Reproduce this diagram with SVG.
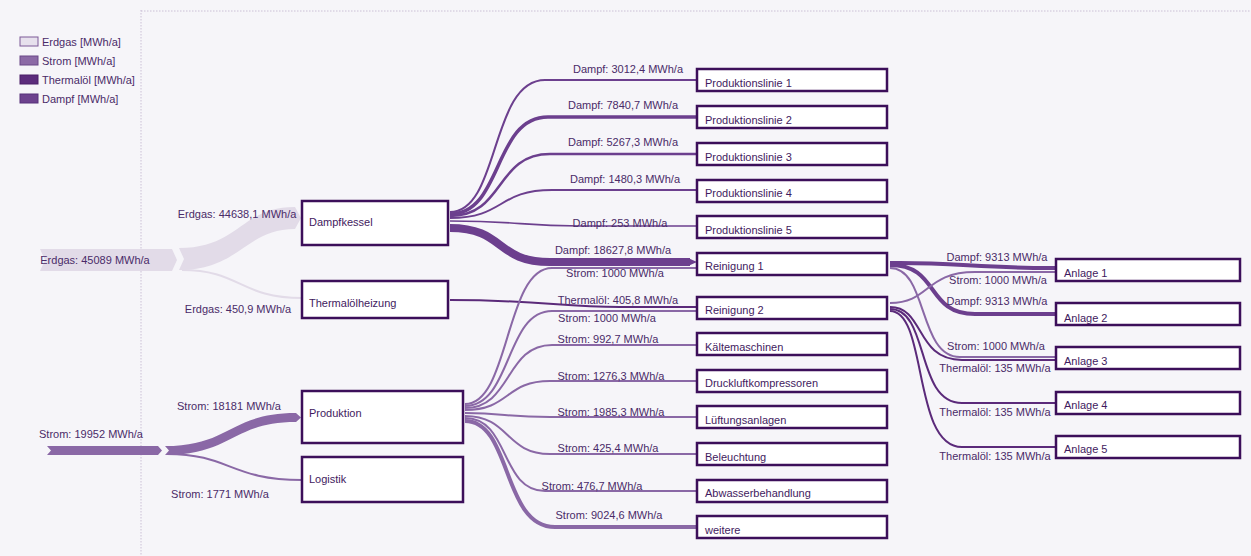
<svg xmlns="http://www.w3.org/2000/svg" width="1251" height="556" viewBox="0 0 1251 556">
<style>
text{font-family:"Liberation Sans",Arial,sans-serif;font-size:11px}
.lbl{fill:#4a2b68;text-anchor:middle}
.nl{fill:#3f1a5e}
.box{fill:#ffffff;stroke:#3c0f5a;stroke-width:2.5}
.f{fill:none}
.dampf{stroke:#6c3f8e}
.strom{stroke:#8a68a6}
.thermo{stroke:#5b2a7a}
.erdgas{stroke:#e2dbe8}
.grid{stroke:#cbc0d6;stroke-width:1;stroke-dasharray:1.5 1.5}
</style>
<rect x="0" y="0" width="1251" height="556" fill="#f6f5f9"/>
<line class="grid" x1="141" y1="10" x2="141" y2="556"/>
<line class="grid" x1="141" y1="11" x2="1251" y2="11"/>

<g id="legend">
<rect x="20" y="37" width="18" height="9" fill="#e7e1ed" stroke="#7d5a98" stroke-width="1"/>
<text x="42" y="46" fill="#4a2b68">Erdgas [MWh/a]</text>
<rect x="20" y="56" width="18" height="9" fill="#8c6aa6" stroke="#6a4888" stroke-width="1"/>
<text x="42" y="65" fill="#4a2b68">Strom [MWh/a]</text>
<rect x="20" y="75" width="18" height="9" fill="#5c2c7c" stroke="#4a1e68" stroke-width="1"/>
<text x="42" y="84" fill="#4a2b68">Thermalöl [MWh/a]</text>
<rect x="20" y="94" width="18" height="9" fill="#6d428e" stroke="#56307a" stroke-width="1"/>
<text x="42" y="103" fill="#4a2b68">Dampf [MWh/a]</text>
</g>

<g id="connectors">
<!-- Erdgas -->
<path d="M40,249 L172,249 L177,260 L172,271 L40,271 L45,260 Z" fill="#e2dbe8"/>
<path d="M179,248 C240,248 240,207 295,207 L301,218 L295,229 C245,229 240,270 179,270 L184,259 Z" fill="#e2dbe8"/>
<path class="f erdgas" stroke-width="2" d="M182,270 C240,270 240,298 302,298"/>
<!-- Strom source -->
<path d="M47,446 L158,446 L162,450.5 L158,455 L47,455 L51,450.5 Z" fill="#8a68a6"/>
<path d="M165,446 C230,446 230,413 296,413 L301,417.5 L296,422 C232,422 232,455 165,455 L169,450.5 Z" fill="#8a68a6"/>
<path class="f strom" stroke-width="2" d="M167,454 C230,454 230,480 302,480"/>
<!-- Dampf from Dampfkessel -->
<path class="f dampf" stroke-width="2" d="M450,212 C500,212 490,80 545,80 L697,80"/>
<path class="f dampf" stroke-width="3.5" d="M450,214 C503,214 493,117 548,117 L697,117"/>
<path class="f dampf" stroke-width="2.5" d="M450,216 C505,216 495,154 550,154 L697,154"/>
<path class="f dampf" stroke-width="2" d="M450,218 C505,218 497,190 552,190 L697,190"/>
<path class="f dampf" stroke-width="1.6" d="M450,221 C520,221 520,226 580,226 L697,226"/>
<path class="f dampf" stroke-width="8" d="M450,228 C505,228 495,262 550,262 L690,262"/>
<path d="M688,258 L697,262 L688,266 Z" fill="#6c3f8e"/>
<!-- Thermalöl from Thermalölheizung -->
<path class="f thermo" stroke-width="2" d="M450,300 C540,300 560,307 620,307 L697,307"/>
<!-- Strom from Produktion -->
<path class="f strom" stroke-width="2" d="M465,404 C510,404 505,268 552,268 L697,268"/>
<path class="f strom" stroke-width="2" d="M465,406 C512,406 505,311 552,311 L697,311"/>
<path class="f strom" stroke-width="2" d="M465,408 C512,408 505,345 552,345 L697,345"/>
<path class="f strom" stroke-width="2" d="M465,410 C510,410 505,381 550,381 L697,381"/>
<path class="f strom" stroke-width="2" d="M465,413 C505,413 505,417 550,417 L697,417"/>
<path class="f strom" stroke-width="2" d="M465,416 C510,416 505,454 550,454 L697,454"/>
<path class="f strom" stroke-width="2" d="M465,418 C510,418 500,491 545,491 L697,491"/>
<path class="f strom" stroke-width="4" d="M465,421 C512,421 502,527 555,527 L697,527"/>
<!-- Reinigung to Anlagen -->
<path class="f dampf" stroke-width="4" d="M890,263 C950,262 980,268 1050,268 L1056,268"/>
<path class="f dampf" stroke-width="4" d="M890,265 C940,265 925,314 975,314 L1056,314"/>
<path class="f strom" stroke-width="2" d="M890,268 C928,268 918,357 960,357 L1056,357"/>
<path class="f strom" stroke-width="2" d="M890,303 C930,303 925,272 975,272 L1056,272"/>
<path class="f thermo" stroke-width="2" d="M890,307 C925,307 915,360 962,360 L1056,360"/>
<path class="f thermo" stroke-width="2" d="M890,309 C930,309 915,403 962,403 L1056,403"/>
<path class="f thermo" stroke-width="2" d="M890,311 C928,311 912,447 962,447 L1056,447"/>
</g>

<g id="flow-labels">
<text class="lbl" x="95" y="264">Erdgas: 45089 MWh/a</text>
<text class="lbl" x="237" y="218">Erdgas: 44638,1 MWh/a</text>
<text class="lbl" x="238" y="313">Erdgas: 450,9 MWh/a</text>
<text class="lbl" x="91" y="438">Strom: 19952 MWh/a</text>
<text class="lbl" x="229" y="410">Strom: 18181 MWh/a</text>
<text class="lbl" x="220" y="498">Strom: 1771 MWh/a</text>
<text class="lbl" x="628" y="73">Dampf: 3012,4 MWh/a</text>
<text class="lbl" x="623" y="109">Dampf: 7840,7 MWh/a</text>
<text class="lbl" x="623" y="146">Dampf: 5267,3 MWh/a</text>
<text class="lbl" x="625" y="183">Dampf: 1480,3 MWh/a</text>
<text class="lbl" x="620" y="227">Dampf: 253 MWh/a</text>
<text class="lbl" x="613" y="254">Dampf: 18627,8 MWh/a</text>
<text class="lbl" x="615" y="277">Strom: 1000 MWh/a</text>
<text class="lbl" x="618" y="304">Thermalöl: 405,8 MWh/a</text>
<text class="lbl" x="607" y="322">Strom: 1000 MWh/a</text>
<text class="lbl" x="608" y="343">Strom: 992,7 MWh/a</text>
<text class="lbl" x="611" y="380">Strom: 1276,3 MWh/a</text>
<text class="lbl" x="611" y="416">Strom: 1985,3 MWh/a</text>
<text class="lbl" x="608" y="452">Strom: 425,4 MWh/a</text>
<text class="lbl" x="592" y="490">Strom: 476,7 MWh/a</text>
<text class="lbl" x="609" y="519">Strom: 9024,6 MWh/a</text>
<text class="lbl" x="997" y="261">Dampf: 9313 MWh/a</text>
<text class="lbl" x="998" y="284">Strom: 1000 MWh/a</text>
<text class="lbl" x="997" y="305">Dampf: 9313 MWh/a</text>
<text class="lbl" x="996" y="350">Strom: 1000 MWh/a</text>
<text class="lbl" x="995" y="372">Thermalöl: 135 MWh/a</text>
<text class="lbl" x="995" y="416">Thermalöl: 135 MWh/a</text>
<text class="lbl" x="995" y="460">Thermalöl: 135 MWh/a</text>
</g>

<g id="dampfkessel"><rect class="box" x="302" y="201" width="146" height="44"/><text class="nl" x="309" y="226">Dampfkessel</text></g>
<g id="thermaloelheizung"><rect class="box" x="302" y="281" width="146" height="37"/><text class="nl" x="309" y="307">Thermalölheizung</text></g>
<g id="produktion"><rect class="box" x="302" y="391" width="161" height="52"/><text class="nl" x="309" y="417">Produktion</text></g>
<g id="logistik"><rect class="box" x="302" y="457" width="161" height="45"/><text class="nl" x="309" y="483">Logistik</text></g>

<g id="produktionslinie1"><rect class="box" x="697" y="69" width="190" height="22"/><text class="nl" x="705" y="87">Produktionslinie 1</text></g>
<g id="produktionslinie2"><rect class="box" x="697" y="106" width="190" height="22"/><text class="nl" x="705" y="124">Produktionslinie 2</text></g>
<g id="produktionslinie3"><rect class="box" x="697" y="143" width="190" height="22"/><text class="nl" x="705" y="161">Produktionslinie 3</text></g>
<g id="produktionslinie4"><rect class="box" x="697" y="180" width="190" height="22"/><text class="nl" x="705" y="197">Produktionslinie 4</text></g>
<g id="produktionslinie5"><rect class="box" x="697" y="216" width="190" height="22"/><text class="nl" x="705" y="234">Produktionslinie 5</text></g>
<g id="reinigung1"><rect class="box" x="697" y="253" width="190" height="22"/><text class="nl" x="705" y="270">Reinigung 1</text></g>
<g id="reinigung2"><rect class="box" x="697" y="297" width="190" height="22"/><text class="nl" x="705" y="314">Reinigung 2</text></g>
<g id="kaeltemaschinen"><rect class="box" x="697" y="333" width="190" height="22"/><text class="nl" x="705" y="351">Kältemaschinen</text></g>
<g id="druckluftkompressoren"><rect class="box" x="697" y="370" width="190" height="22"/><text class="nl" x="705" y="387">Druckluftkompressoren</text></g>
<g id="lueftungsanlagen"><rect class="box" x="697" y="406" width="190" height="22"/><text class="nl" x="705" y="424">Lüftungsanlagen</text></g>
<g id="beleuchtung"><rect class="box" x="697" y="443" width="190" height="22"/><text class="nl" x="705" y="461">Beleuchtung</text></g>
<g id="abwasserbehandlung"><rect class="box" x="697" y="480" width="190" height="22"/><text class="nl" x="705" y="497">Abwasserbehandlung</text></g>
<g id="weitere"><rect class="box" x="697" y="516" width="190" height="22"/><text class="nl" x="705" y="534">weitere</text></g>

<g id="anlage1"><rect class="box" x="1056" y="259" width="184" height="22"/><text class="nl" x="1064" y="277">Anlage 1</text></g>
<g id="anlage2"><rect class="box" x="1056" y="303" width="184" height="22"/><text class="nl" x="1064" y="322">Anlage 2</text></g>
<g id="anlage3"><rect class="box" x="1056" y="347" width="184" height="22"/><text class="nl" x="1064" y="365">Anlage 3</text></g>
<g id="anlage4"><rect class="box" x="1056" y="392" width="184" height="22"/><text class="nl" x="1064" y="409">Anlage 4</text></g>
<g id="anlage5"><rect class="box" x="1056" y="436" width="184" height="22"/><text class="nl" x="1064" y="453">Anlage 5</text></g>
</svg>
